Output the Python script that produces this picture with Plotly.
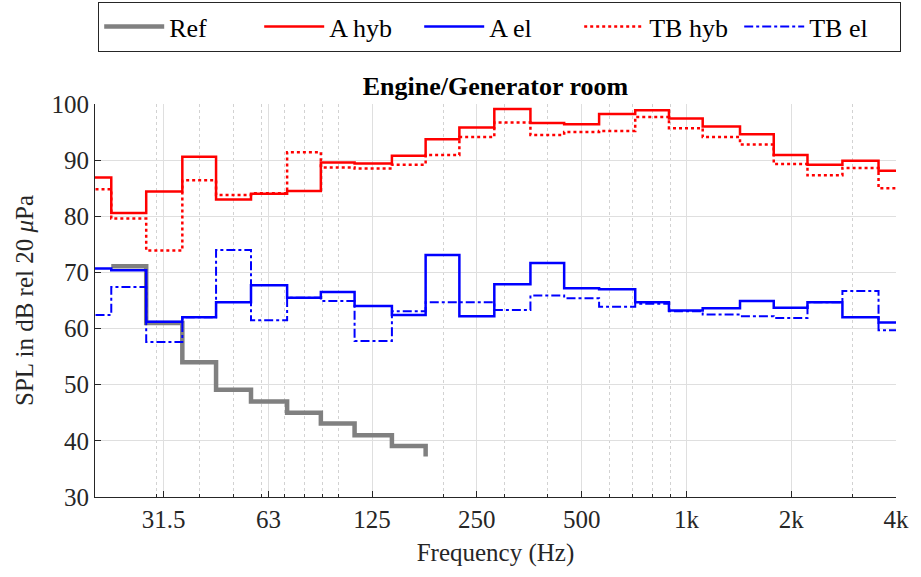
import numpy as np
import plotly.graph_objects as go

bands = [20, 25, 31.5, 40, 50, 63, 80, 100, 125, 160, 200, 250, 315, 400, 500,
         630, 800, 1000, 1250, 1600, 2000, 2500, 3150, 4000]

ref = [None, 71.1, 61.0, 54.0, 49.1, 47.0, 45.0, 43.1, 41.0, 39.1, 37.2,
       None, None, None, None, None, None, None, None, None, None, None, None, None]
a_hyb = [86.9, 80.6, 84.4, 90.6, 83.0, 84.0, 84.5, 89.6, 89.4, 90.8, 93.7, 95.8,
         99.1, 96.6, 96.4, 98.2, 98.9, 97.4, 96.0, 94.6, 90.9, 89.2, 89.9, 88.1]
a_el = [70.7, 70.4, 61.2, 62.0, 64.7, 67.7, 65.5, 66.5, 64.0, 62.4, 73.1, 62.2,
        67.9, 71.7, 67.2, 67.0, 64.7, 63.2, 63.6, 64.9, 63.7, 64.7, 62.0, 61.1]
tb_hyb = [84.8, 79.6, 73.9, 86.4, 83.8, 84.1, 91.4, 88.7, 88.5, 89.2, 90.9, 94.1,
          96.7, 94.5, 95.0, 95.2, 97.7, 95.7, 94.1, 92.8, 89.3, 87.3, 88.6, 85.0]
tb_el = [62.4, 67.4, 57.6, 62.0, 74.0, 61.5, 65.5, 64.9, 57.8, 63.1, 64.7, 64.7,
         63.3, 65.9, 65.4, 63.9, 64.4, 63.1, 62.5, 62.2, 61.9, 64.7, 66.7, 59.7]

major_vals = [31.5, 63, 125, 250, 500, 1000, 2000, 4000]
major_text = ["31.5", "63", "125", "250", "500", "1k", "2k", "4k"]
minor_vals = [20, 30, 40, 50, 60, 70, 80, 90, 100, 200, 300, 400, 500, 600, 700,
              800, 900, 1000, 2000, 3000, 4000]

lower = [b * 2 ** (-1 / 6) for b in bands]
upper_last = bands[-1] * 2 ** (1 / 6)


def stairs(vals, extend=True):
    xs = list(lower)
    ys = list(vals)
    if extend:
        xs.append(upper_last)
        ys.append(vals[-1])
    return xs, ys


FONT = "Liberation Serif"
TXT = "#262626"
fig = go.Figure()

series = [
    ("Ref", ref, dict(color="#808080", width=4.5, dash="solid"), False),
    ("A hyb", a_hyb, dict(color="#ff0000", width=2.5, dash="solid"), True),
    ("A el", a_el, dict(color="#0000ff", width=2.5, dash="solid"), True),
    ("TB hyb", tb_hyb, dict(color="#ff0000", width=2.5, dash="dot"), True),
    ("TB el", tb_el, dict(color="#0000ff", width=2, dash="dashdot"), True),
]
for name, vals, line, ext in series:
    xs, ys = stairs(vals, ext)
    fig.add_trace(go.Scatter(x=xs, y=ys, mode="lines", name=name,
                             line=dict(shape="hv", **line), connectgaps=False))

fig.update_layout(
    width=921, height=577,
    margin=dict(l=95, r=18, t=104, b=80),
    paper_bgcolor="white", plot_bgcolor="white",
    font=dict(family=FONT, size=25, color=TXT),
    title=dict(text="<b>Engine/Generator room</b>", x=0.5, xref="paper",
               y=1 - 86 / 577, yref="container", yanchor="middle",
               font=dict(family=FONT, size=26, color="black")),
    legend=dict(orientation="h", xref="container", yref="container",
                x=98 / 921, y=1 - 2 / 577, xanchor="left", yanchor="top",
                bordercolor="#262626", borderwidth=1.2, bgcolor="white",
                font=dict(family=FONT, size=26, color="black"),
                itemwidth=60, entrywidth=85, tracegroupgap=0),
    showlegend=True,
)

fig.update_xaxes(
    type="log", range=[np.log10(20), np.log10(4000)],
    tickmode="array", tickvals=major_vals, ticktext=major_text,
    ticks="inside", ticklen=6, tickcolor=TXT, tickwidth=1,
    showline=True, linecolor=TXT, linewidth=1.2,
    showgrid=True, gridcolor="#dfdfdf", gridwidth=1,
    zeroline=False,
    minor=dict(tickmode="array", tickvals=minor_vals, ticks="inside", ticklen=3,
               tickcolor=TXT, showgrid=True, gridcolor="#d2d2d2",
               griddash="dot", gridwidth=1),
    title=dict(text="Frequency (Hz)", standoff=11,
               font=dict(family=FONT, size=25, color=TXT)),
    tickfont=dict(family=FONT, size=25, color=TXT),
)
fig.update_yaxes(
    range=[30, 100], tickmode="array", tickvals=list(range(30, 101, 10)),
    ticks="inside", ticklen=6, tickcolor=TXT,
    showline=True, linecolor=TXT, linewidth=1.2,
    showgrid=True, gridcolor="#dfdfdf", gridwidth=1, zeroline=False,
    title=dict(text="SPL in dB rel 20 <i>\u03bc</i>Pa", standoff=10,
               font=dict(family=FONT, size=25, color=TXT)),
    tickfont=dict(family=FONT, size=25, color=TXT),
)

fig.write_html("out.html")
